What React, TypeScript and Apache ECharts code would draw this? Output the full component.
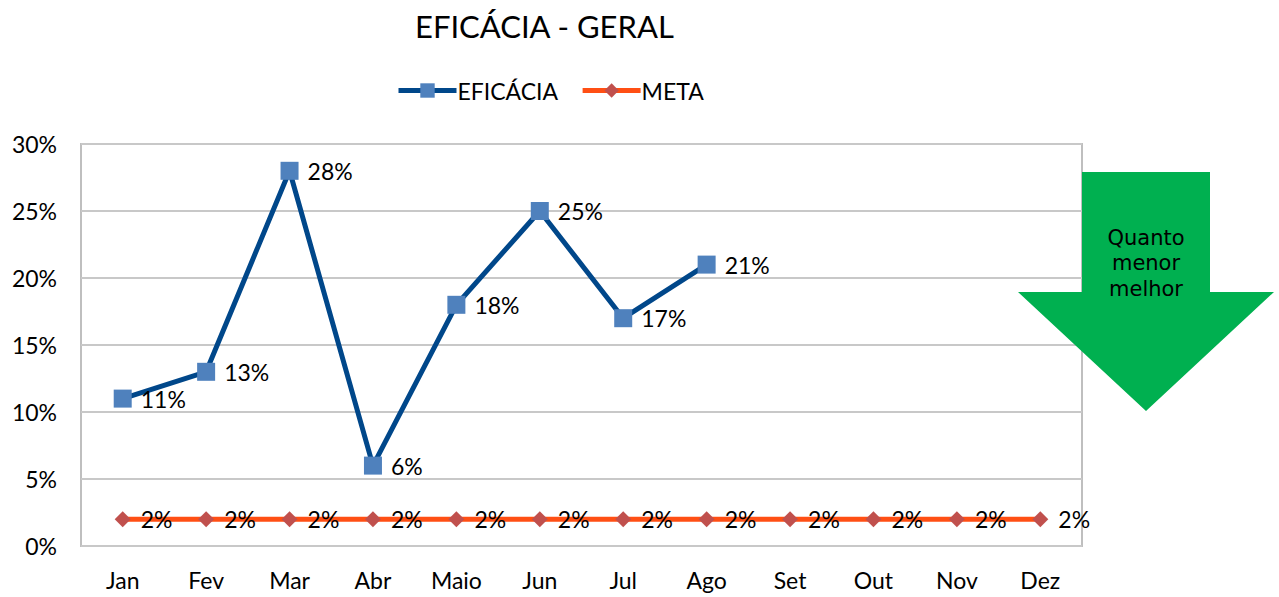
import React, { useEffect, useRef } from "react";
import * as echarts from "echarts";

const months = ["Jan", "Fev", "Mar", "Abr", "Maio", "Jun", "Jul", "Ago", "Set", "Out", "Nov", "Dez"];
const eficacia: (number | null)[] = [0.11, 0.13, 0.28, 0.06, 0.18, 0.25, 0.17, 0.21, null, null, null, null];
const meta = [0.02, 0.02, 0.02, 0.02, 0.02, 0.02, 0.02, 0.02, 0.02, 0.02, 0.02, 0.02];
const arrowText = "Quanto\nmenor\nmelhor";

const FONT = "Lato, 'Open Sans', sans-serif";
const pct = (v: number) => Math.round(v * 100) + "%";

export default function App() {
  const ref = useRef<HTMLDivElement>(null);
  useEffect(() => {
    if (!ref.current) return;
    const chart = echarts.init(ref.current, null, { renderer: "svg" });
    chart.setOption({
      animation: false,
      backgroundColor: "#fff",
      textStyle: { fontFamily: FONT },
      title: {
        text: "EFICÁCIA - GERAL",
        left: 410,
        top: 5,
        textStyle: { fontSize: 31, fontWeight: "normal", color: "#000", fontFamily: FONT },
      },
      legend: {
        left: 391,
        top: 74,
        itemWidth: 58,
        itemHeight: 18,
        itemGap: 22,
        textStyle: { fontSize: 23, color: "#000", fontFamily: FONT, padding: [0, 0, 0, -4] },
        data: [
          { name: "EFICÁCIA", lineStyle: { width: 5 } },
          { name: "META", lineStyle: { width: 5 } },
        ],
      },
      grid: { left: 81, right: 197, top: 144, bottom: 51, show: true, borderColor: "#bfbfbf", borderWidth: 2, containLabel: false },
      xAxis: {
        type: "category",
        data: months,
        boundaryGap: true,
        axisLine: { show: false },
        axisTick: { show: false },
        axisLabel: { fontSize: 23, color: "#000", margin: 22, fontFamily: FONT },
      },
      yAxis: {
        type: "value",
        min: 0,
        max: 0.3,
        interval: 0.05,
        axisLine: { show: false },
        axisTick: { show: false },
        splitLine: { lineStyle: { color: "#c8c8c8", width: 2 } },
        axisLabel: { fontSize: 23, color: "#000", margin: 24, fontFamily: FONT, formatter: (v: number) => pct(v) },
      },
      series: [
        {
          name: "META",
          type: "line",
          data: meta,
          symbol: "diamond",
          symbolSize: 16,
          lineStyle: { color: "#ff4f14", width: 5 },
          itemStyle: { color: "#c0504d" },
          z: 2,
          label: { show: true, position: "right", distance: 10, fontSize: 23, color: "#000", fontFamily: FONT, formatter: (p: any) => pct(p.value) },
        },
        {
          name: "EFICÁCIA",
          type: "line",
          data: eficacia,
          symbol: "rect",
          symbolSize: 18,
          lineStyle: { color: "#00478a", width: 5 },
          itemStyle: { color: "#4f81bd" },
          z: 3,
          label: { show: true, position: "right", distance: 9, fontSize: 23, color: "#000", fontFamily: FONT, formatter: (p: any) => pct(p.value) },
        },
      ],
      graphic: [
        {
          type: "polygon",
          shape: {
            points: [
              [1082, 172],
              [1210, 172],
              [1210, 292],
              [1274, 292],
              [1146, 411],
              [1018, 292],
              [1082, 292],
            ],
          },
          style: { fill: "#00b050" },
          z: 10,
        },
        {
          type: "text",
          x: 1146,
          y: 225,
          z: 11,
          style: {
            text: arrowText,
            fill: "#000",
            fontSize: 21,
            lineHeight: 25.5,
            align: "center",
            verticalAlign: "top",
            fontFamily: "'DejaVu Sans', sans-serif",
          },
        },
      ],
    });
    return () => chart.dispose();
  }, []);
  return <div ref={ref} style={{ width: 1279, height: 597, position: "absolute", left: 0, top: 0 }} />;
}
